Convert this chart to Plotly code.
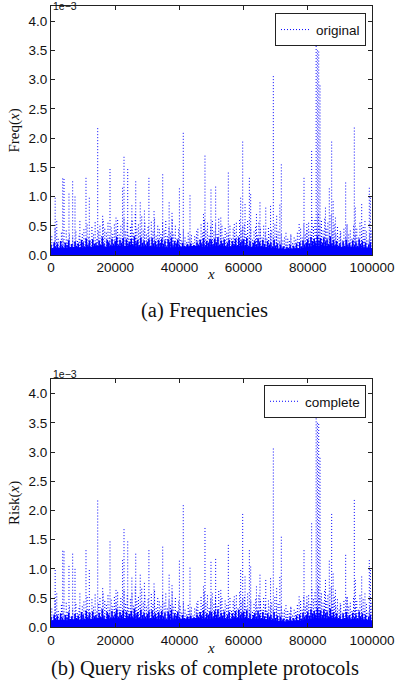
import plotly.graph_objects as go

# ---------------- data (values in units of 1e-3) ----------------
# prominent spikes: position x and height
peak_x = [1300, 1800, 3650, 4050, 5600, 6750, 7480, 9000, 10900, 11930,
          14550, 16100, 18380, 20250, 22300, 22740, 23900, 25200, 26400, 27800,
          29100, 30500, 32100, 34800, 36800, 37700, 40000, 41200, 43300, 45400,
          47500, 47970, 49840, 51300, 52900, 55240, 57100, 59090, 59720, 60450,
          61790, 62200, 64000, 65100, 66900, 68400, 69260, 70300, 71300, 71750,
          73200, 74700, 77300, 78820, 79700, 81200, 82600, 83000, 83400, 83800,
          85500, 86700, 87440, 87900, 88600, 90100, 91800, 92200,
          94490, 94800, 96790, 97800, 99160, 99500]
freq_peak = [0.98, 0.58, 1.31, 1.30, 1.05, 1.26, 1.00, 0.58, 1.32, 0.98,
             2.17, 0.67, 1.47, 0.64, 1.15, 1.68, 1.47, 0.85, 1.26, 0.90,
             0.76, 1.32, 0.75, 1.38, 0.90, 0.72, 1.14, 2.09, 1.02, 0.41,
             0.70, 1.70, 1.12, 1.17, 0.64, 1.41, 0.53, 0.98, 1.94, 0.87,
             1.32, 1.04, 0.70, 0.90, 0.81, 0.84, 3.06, 0.67, 0.86, 1.55,
             0.38, 0.35, 0.53, 1.32, 0.53, 1.78, 3.73, 3.50, 3.48, 2.90,
             0.81, 1.14, 1.94, 0.92, 0.64, 0.41, 1.24, 0.50,
             2.18, 0.81, 0.87, 0.58, 1.15, 0.98]
risk_peak = list(freq_peak)

# medium background spikes, one every 500 starting at 250
bg_x = [250 + 500 * i for i in range(200)]
freq_bg = [0.32, 0.18, 0.45, 0.22, 0.28, 0.15, 0.38, 0.25, 0.20, 0.42,
           0.26, 0.35, 0.18, 0.30, 0.22, 0.40, 0.24, 0.33, 0.19, 0.36,
           0.44, 0.28, 0.52, 0.30, 0.25, 0.48, 0.35, 0.56, 0.27, 0.40,
           0.50, 0.32, 0.58, 0.45, 0.38, 0.55, 0.30, 0.47, 0.36, 0.52,
           0.42, 0.60, 0.35, 0.50, 0.28, 0.62, 0.40, 0.55, 0.33, 0.48,
           0.58, 0.37, 0.70, 0.45, 0.52, 0.38, 0.66, 0.42, 0.55, 0.35,
           0.48, 0.30, 0.57, 0.40, 0.62, 0.33, 0.50, 0.44, 0.36, 0.55,
           0.42, 0.58, 0.32, 0.46, 0.38, 0.60, 0.35, 0.50, 0.28, 0.44,
           0.36, 0.25, 0.42, 0.30, 0.22, 0.38, 0.28, 0.34, 0.20, 0.32,
           0.30, 0.45, 0.26, 0.52, 0.38, 0.60, 0.42, 0.55, 0.33, 0.48,
           0.58, 0.40, 0.52, 0.36, 0.62, 0.44, 0.50, 0.30, 0.46, 0.38,
           0.34, 0.50, 0.28, 0.45, 0.38, 0.55, 0.32, 0.60, 0.42, 0.48,
           0.52, 0.36, 0.58, 0.30, 0.44, 0.26, 0.40, 0.48, 0.34, 0.55,
           0.45, 0.30, 0.50, 0.38, 0.28, 0.46, 0.35, 0.42, 0.30, 0.52,
           0.32, 0.40, 0.22, 0.35, 0.25, 0.30, 0.18, 0.28, 0.24, 0.33,
           0.20, 0.30, 0.26, 0.38, 0.22, 0.45, 0.30, 0.52, 0.35, 0.42,
           0.55, 0.40, 0.65, 0.48, 0.60, 0.45, 0.70, 0.50, 0.58, 0.42,
           0.62, 0.45, 0.55, 0.38, 0.68, 0.40, 0.52, 0.35, 0.48, 0.30,
           0.38, 0.25, 0.45, 0.30, 0.52, 0.35, 0.42, 0.28, 0.50, 0.33,
           0.45, 0.30, 0.55, 0.36, 0.48, 0.28, 0.40, 0.25, 0.35, 0.42]
risk_bg = list(freq_bg)

# low dense spikes (merge into the solid band), one every 500 starting at 0
low_x = [500 * i for i in range(200)]
freq_low = [0.18, 0.12, 0.22, 0.15, 0.20, 0.10, 0.24, 0.16, 0.13, 0.21,
            0.17, 0.25, 0.14, 0.19, 0.11, 0.23, 0.16, 0.20, 0.12, 0.26,
            0.22, 0.15, 0.28, 0.18, 0.24, 0.13, 0.27, 0.19, 0.21, 0.16,
            0.25, 0.18, 0.30, 0.20, 0.14, 0.26, 0.22, 0.17, 0.28, 0.19,
            0.24, 0.31, 0.18, 0.26, 0.21, 0.29, 0.16, 0.27, 0.20, 0.23,
            0.28, 0.19, 0.32, 0.22, 0.26, 0.17, 0.30, 0.21, 0.25, 0.18,
            0.23, 0.27, 0.16, 0.29, 0.20, 0.24, 0.18, 0.26, 0.21, 0.28,
            0.19, 0.25, 0.15, 0.27, 0.22, 0.30, 0.17, 0.24, 0.20, 0.26,
            0.18, 0.13, 0.21, 0.16, 0.11, 0.19, 0.14, 0.20, 0.12, 0.17,
            0.15, 0.22, 0.18, 0.26, 0.20, 0.29, 0.17, 0.24, 0.21, 0.27,
            0.26, 0.19, 0.28, 0.22, 0.30, 0.18, 0.25, 0.20, 0.27, 0.16,
            0.21, 0.26, 0.15, 0.24, 0.19, 0.28, 0.17, 0.30, 0.22, 0.25,
            0.27, 0.18, 0.29, 0.16, 0.23, 0.14, 0.21, 0.25, 0.18, 0.28,
            0.22, 0.16, 0.26, 0.19, 0.14, 0.24, 0.18, 0.21, 0.15, 0.26,
            0.16, 0.20, 0.11, 0.18, 0.13, 0.15, 0.10, 0.14, 0.12, 0.17,
            0.11, 0.16, 0.13, 0.20, 0.12, 0.22, 0.15, 0.25, 0.18, 0.21,
            0.27, 0.20, 0.31, 0.24, 0.28, 0.22, 0.33, 0.25, 0.29, 0.21,
            0.30, 0.23, 0.27, 0.19, 0.32, 0.20, 0.26, 0.18, 0.24, 0.16,
            0.20, 0.13, 0.23, 0.16, 0.26, 0.18, 0.21, 0.15, 0.25, 0.17,
            0.22, 0.16, 0.27, 0.19, 0.24, 0.15, 0.21, 0.13, 0.18, 0.22]
risk_low = list(freq_low)

# solid floor level, one value every 2500
base_x = [2500 * i for i in range(41)]
freq_base = [0.11, 0.13, 0.12, 0.14, 0.13, 0.15, 0.16, 0.14, 0.16, 0.15,
             0.16, 0.14, 0.15, 0.14, 0.13, 0.13, 0.14, 0.15, 0.16, 0.14,
             0.15, 0.16, 0.14, 0.16, 0.15, 0.14, 0.15, 0.13, 0.11, 0.10,
             0.11, 0.11, 0.14, 0.16, 0.15, 0.16, 0.14, 0.14, 0.13, 0.13, 0.12]
risk_base = list(freq_base)

x_ticks = [0, 20000, 40000, 60000, 80000, 100000]
y_ticks = [0.0, 0.5, 1.0, 1.5, 2.0, 2.5, 3.0, 3.5, 4.0]

BLUE = "#0000ff"
DOT = "1px,2px"
SANS = "Liberation Sans, Arial, sans-serif"
SERIF = "Liberation Serif, Times New Roman, serif"


def segments(xv, yv):
    # vertical segment per value, drawn from the top down
    xs, ys = [], []
    for a, b in zip(xv, yv):
        xs += [a, a, None]
        ys += [b, 0, None]
    return xs, ys


fig = go.Figure()


def add_panel(xa, ya, base, low, bg, peak, name, legend):
    fig.add_trace(go.Scatter(x=base_x, y=base, mode="lines", fill="tozeroy",
                             fillcolor="rgba(0,0,255,1)", line=dict(width=0),
                             xaxis=xa, yaxis=ya, showlegend=False, hoverinfo="skip"))
    lx, ly = segments(low_x, low)
    fig.add_trace(go.Scatter(x=lx, y=ly, mode="lines",
                             line=dict(color=BLUE, width=1.6),
                             xaxis=xa, yaxis=ya, showlegend=False, hoverinfo="skip"))
    bx, by = segments(bg_x, bg)
    fig.add_trace(go.Scatter(x=bx, y=by, mode="lines",
                             line=dict(color=BLUE, width=1.1, dash=DOT),
                             xaxis=xa, yaxis=ya, showlegend=False, hoverinfo="skip"))
    px, py = segments(peak_x, peak)
    fig.add_trace(go.Scatter(x=px, y=py, mode="lines", name=name,
                             line=dict(color=BLUE, width=1, dash=DOT),
                             xaxis=xa, yaxis=ya, legend=legend))


add_panel("x", "y", freq_base, freq_low, freq_bg, freq_peak, "original", "legend")
add_panel("x2", "y2", risk_base, risk_low, risk_bg, risk_peak, "complete", "legend2")

W, H = 398, 691
axis_common = dict(showline=True, linecolor="#222", linewidth=1, mirror="ticks",
                   ticks="inside", ticklen=4, tickcolor="#222", showgrid=False,
                   zeroline=False, automargin=False,
                   tickfont=dict(family=SANS, size=13.5, color="#111"))

xdom = [51 / W, 372 / W]
fig.update_layout(
    width=W, height=H, plot_bgcolor="white", paper_bgcolor="white",
    margin=dict(l=0, r=0, t=0, b=0, autoexpand=False),
    xaxis=dict(domain=xdom, anchor="y", range=[0, 100000], tickvals=x_ticks,
               ticktext=[str(v) for v in x_ticks], **axis_common),
    yaxis=dict(domain=[1 - 255 / H, 1 - 6 / H], anchor="x", range=[0, 4.26],
               tickvals=y_ticks, ticktext=[f"{v:.1f}" for v in y_ticks], **axis_common),
    xaxis2=dict(domain=xdom, anchor="y2", range=[0, 100000], tickvals=x_ticks,
                ticktext=[str(v) for v in x_ticks], **axis_common),
    yaxis2=dict(domain=[1 - 627.3 / H, 1 - 379 / H], anchor="x2", range=[0, 4.25],
                tickvals=y_ticks, ticktext=[f"{v:.1f}" for v in y_ticks], **axis_common),
    legend=dict(x=366 / W, xanchor="right", y=1 - 13.3 / H, yanchor="top",
                bgcolor="white", bordercolor="#222", borderwidth=1,
                font=dict(family=SANS, size=13.5, color="#111")),
    legend2=dict(x=366 / W, xanchor="right", y=1 - 385 / H, yanchor="top",
                 bgcolor="white", bordercolor="#222", borderwidth=1,
                 font=dict(family=SANS, size=13.5, color="#111")),
    showlegend=True,
)

ann = []
for ytop, ymid, ylab, xlab_y, cap, cap_y in [
        (6.5, 130.5, "Freq(<i>x</i>)", 274, "(a) Frequencies", 310),
        (373.5, 503, "Risk(<i>x</i>)", 648, "(b) Query risks of complete protocols", 668)]:
    ann.append(dict(text="1e\u22123", x=51 / W, y=1 - ytop / H, xref="paper", yref="paper",
                    xanchor="left", yanchor="middle", showarrow=False,
                    font=dict(family=SANS, size=10.5, color="#111")))
    ann.append(dict(text=ylab, x=14 / W, y=1 - ymid / H, xref="paper", yref="paper",
                    xanchor="center", yanchor="middle", textangle=-90, showarrow=False,
                    font=dict(family=SERIF, size=15, color="#111")))
    ann.append(dict(text="<i>x</i>", x=210.5 / W, y=1 - xlab_y / H, xref="paper", yref="paper",
                    xanchor="center", yanchor="middle", showarrow=False,
                    font=dict(family=SERIF, size=15, color="#111")))
    ann.append(dict(text=cap, x=205 / W, y=1 - cap_y / H, xref="paper", yref="paper",
                    xanchor="center", yanchor="middle", showarrow=False,
                    font=dict(family=SERIF, size=20.5, color="#111")))
fig.update_layout(annotations=ann)

fig.write_html("out.html", config={"displayModeBar": False},
               post_script="document.body.style.margin='0';document.body.style.overflow='hidden';")
